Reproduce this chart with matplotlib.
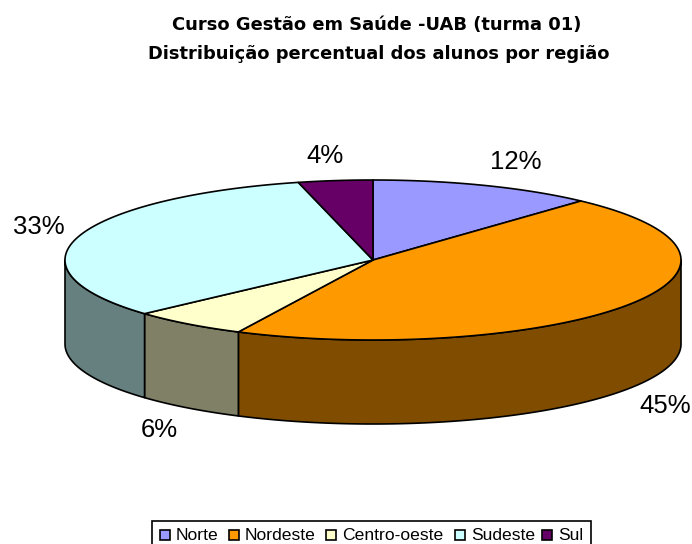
import numpy as np
import matplotlib
matplotlib.use("Agg")
import matplotlib.pyplot as plt
from matplotlib.patches import Polygon, Rectangle

plt.rcParams["font.family"] = ["Liberation Sans", "DejaVu Sans"]

regions = ["Norte", "Nordeste", "Centro-oeste", "Sudeste", "Sul"]
percent = [11.8, 45.4, 6.1, 32.8, 3.9]
colors = ["#9999FF", "#FF9900", "#FFFFCC", "#CCFFFF", "#660066"]
side_colors = ["#555588", "#804D00", "#808066", "#668080", "#330033"]
label_pos = [(516, 162), (665, 406), (159, 430), (39, 227), (325, 156)]

W, H = 692, 544
cx, cy, rx, ry, depth = 373, 260, 308, 80, 84

fig = plt.figure(figsize=(W / 100, H / 100), dpi=100)
ax = fig.add_axes([0, 0, 1, 1])
ax.set_xlim(0, W)
ax.set_ylim(H, 0)
ax.axis("off")


def arc(a0, a1):
    # angles are clockwise from the top, in degrees
    t = np.radians(np.linspace(a0, a1, 200))
    return cx + rx * np.sin(t), cy - ry * np.cos(t)


edges = np.cumsum([0] + percent) * 3.6

# side walls, only the front half of the ellipse shows
for i in range(len(percent)):
    a0, a1 = max(edges[i], 90), min(edges[i + 1], 270)
    if a0 >= a1:
        continue
    x, y = arc(a0, a1)
    pts = np.r_[np.c_[x, y], np.c_[x[::-1], y[::-1] + depth]]
    ax.add_patch(Polygon(pts, fc=side_colors[i], ec="black", lw=1.2, joinstyle="round"))

# top of the pie
for i in range(len(percent)):
    x, y = arc(edges[i], edges[i + 1])
    pts = np.r_[[[cx, cy]], np.c_[x, y]]
    ax.add_patch(Polygon(pts, fc=colors[i], ec="black", lw=1.2, joinstyle="round"))

for p, (lx, ly) in zip(percent, label_pos):
    ax.text(lx, ly, f"{round(p)}%", fontsize=18.5, ha="center", va="center", color="black")

ax.text(377, 25, "Curso Gestão em Saúde -UAB (turma 01)", fontsize=12.9, fontweight="bold",
        family="DejaVu Sans", ha="center", va="center")
ax.text(379, 54, "Distribuição percentual dos alunos por região", fontsize=12.9, fontweight="bold",
        family="DejaVu Sans", ha="center", va="center")

# legend, its bottom edge falls outside the picture
ax.add_patch(Rectangle((152, 520.5), 438.5, 30, fc="white", ec="black", lw=1.2))
legend_x = [160, 229, 326, 455, 542]
for name, col, lx in zip(regions, colors, legend_x):
    ax.add_patch(Rectangle((lx, 530), 10, 10, fc=col, ec="black", lw=1.2))
    ax.text(lx + 16, 535, name, fontsize=12.6, ha="left", va="center")

fig.savefig("out.png", dpi=100)
